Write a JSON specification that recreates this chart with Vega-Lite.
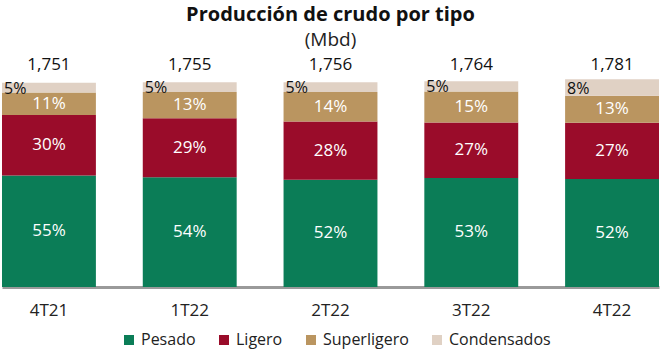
{
  "$schema": "https://vega.github.io/schema/vega-lite/v6.json",
  "width": 657,
  "height": 210,
  "autosize": {"type": "none"},
  "padding": {"left": 2, "right": 2, "top": 77, "bottom": 68},
  "background": "white",
  "config": {
    "font": "Open Sans",
    "view": {"stroke": null}
  },
  "title": {
    "text": "Producción de crudo por tipo",
    "subtitle": "(Mbd)",
    "anchor": "middle",
    "offset": 6,
    "font": "Open Sans",
    "fontSize": 20,
    "fontWeight": "bold",
    "color": "#111111",
    "subtitleFont": "Open Sans",
    "subtitleFontSize": 19,
    "subtitleColor": "#222222",
    "subtitlePadding": 6
  },
  "data": {
    "values": [
      {"trimestre": "4T21", "tipo": "Pesado", "valor": 956, "pct": "55%", "orden": 1},
      {"trimestre": "4T21", "tipo": "Ligero", "valor": 518, "pct": "30%", "orden": 2},
      {"trimestre": "4T21", "tipo": "Superligero", "valor": 193, "pct": "11%", "orden": 3},
      {"trimestre": "4T21", "tipo": "Condensados", "valor": 84, "pct": "5%", "orden": 4},
      {"trimestre": "1T22", "tipo": "Pesado", "valor": 941, "pct": "54%", "orden": 1},
      {"trimestre": "1T22", "tipo": "Ligero", "valor": 505, "pct": "29%", "orden": 2},
      {"trimestre": "1T22", "tipo": "Superligero", "valor": 225, "pct": "13%", "orden": 3},
      {"trimestre": "1T22", "tipo": "Condensados", "valor": 84, "pct": "5%", "orden": 4},
      {"trimestre": "2T22", "tipo": "Pesado", "valor": 920, "pct": "52%", "orden": 1},
      {"trimestre": "2T22", "tipo": "Ligero", "valor": 499, "pct": "28%", "orden": 2},
      {"trimestre": "2T22", "tipo": "Superligero", "valor": 253, "pct": "14%", "orden": 3},
      {"trimestre": "2T22", "tipo": "Condensados", "valor": 84, "pct": "5%", "orden": 4},
      {"trimestre": "3T22", "tipo": "Pesado", "valor": 935, "pct": "53%", "orden": 1},
      {"trimestre": "3T22", "tipo": "Ligero", "valor": 476, "pct": "27%", "orden": 2},
      {"trimestre": "3T22", "tipo": "Superligero", "valor": 265, "pct": "15%", "orden": 3},
      {"trimestre": "3T22", "tipo": "Condensados", "valor": 88, "pct": "5%", "orden": 4},
      {"trimestre": "4T22", "tipo": "Pesado", "valor": 926, "pct": "52%", "orden": 1},
      {"trimestre": "4T22", "tipo": "Ligero", "valor": 481, "pct": "27%", "orden": 2},
      {"trimestre": "4T22", "tipo": "Superligero", "valor": 232, "pct": "13%", "orden": 3},
      {"trimestre": "4T22", "tipo": "Condensados", "valor": 142, "pct": "8%", "orden": 4}
    ]
  },
  "transform": [
    {"stack": "valor", "groupby": ["trimestre"], "sort": [{"field": "orden", "order": "ascending"}], "as": ["v0", "v1"]},
    {"calculate": "(datum.v0 + datum.v1) / 2", "as": "vmid"}
  ],
  "encoding": {
    "x": {
      "field": "trimestre",
      "type": "nominal",
      "sort": ["4T21", "1T22", "2T22", "3T22", "4T22"],
      "scale": {"paddingInner": 0.333, "paddingOuter": 0},
      "axis": {
        "title": null,
        "labelAngle": 0,
        "ticks": false,
        "domainColor": "#9a9a9a",
        "domainWidth": 3,
        "labelFontSize": 17,
        "labelColor": "#222222",
        "labelFont": "Open Sans",
        "labelPadding": 15
      }
    }
  },
  "layer": [
    {
      "mark": {"type": "bar"},
      "encoding": {
        "y": {"field": "v1", "type": "quantitative", "scale": {"domain": [0, 1800], "nice": false}, "axis": null},
        "y2": {"field": "v0"},
        "color": {
          "field": "tipo",
          "type": "nominal",
          "scale": {
            "domain": ["Pesado", "Ligero", "Superligero", "Condensados"],
            "range": ["#0b7d57", "#9a0c2a", "#ba9560", "#e0d1c4"]
          },
          "legend": {
            "title": null,
            "orient": "none",
            "legendX": 119,
            "legendY": 255,
            "direction": "horizontal",
            "symbolType": "square",
            "symbolSize": 100,
            "symbolStrokeWidth": 0,
            "labelFontSize": 16,
            "labelColor": "#222222",
            "labelFont": "Open Sans",
            "columnPadding": 20,
            "labelOffset": 4
          }
        }
      }
    },
    {
      "transform": [{"filter": "datum.tipo !== 'Condensados'"}],
      "mark": {"type": "text", "color": "white", "fontSize": 17, "baseline": "middle", "align": "center"},
      "encoding": {
        "y": {"field": "vmid", "type": "quantitative"},
        "text": {"field": "pct"}
      }
    },
    {
      "transform": [{"filter": "datum.tipo === 'Condensados'"}],
      "mark": {"type": "text", "color": "#111111", "fontSize": 16, "baseline": "middle", "align": "left", "dx": 2, "dy": 1},
      "encoding": {
        "x": {"field": "trimestre", "type": "nominal", "sort": ["4T21", "1T22", "2T22", "3T22", "4T22"], "bandPosition": 0},
        "y": {"field": "vmid", "type": "quantitative"},
        "text": {"field": "pct"}
      }
    },
    {
      "transform": [{"aggregate": [{"op": "sum", "field": "valor", "as": "total"}], "groupby": ["trimestre"]}],
      "mark": {"type": "text", "color": "#111111", "fontSize": 17, "baseline": "bottom", "align": "center", "dy": -3},
      "encoding": {
        "y": {"datum": 1800},
        "text": {"field": "total", "type": "quantitative", "format": ","}
      }
    }
  ]
}
